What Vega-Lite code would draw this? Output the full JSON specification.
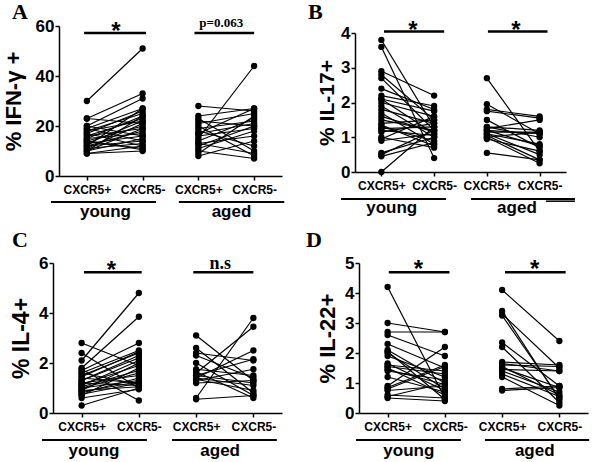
{
"$schema":"https://vega.github.io/schema/vega-lite/v6.json",
"padding":{"left":2,"top":1,"right":0,"bottom":0},
"background":"white",
"config":{"view":{"stroke":null},
"axis":{"grid":false,"domainColor":"black","tickColor":"black","domainWidth":1.5,"tickWidth":1.5,"labelColor":"black","titleColor":"black","labelFont":"Liberation Sans","titleFont":"Liberation Sans","labelFontWeight":"bold","titleFontWeight":"bold"},
"axisX":{"labelFontSize":12,"tickSize":4,"labelPadding":4,"labelAngle":0},
"axisY":{"labelFontSize":17,"tickSize":4,"labelPadding":1,"labelOverlap":false},
"axisTop":{"domain":false,"ticks":false,"labels":false,"title":null,"grid":false}},
"datasets":{"d":[
{"p":"A","i":"y1","s":"young CXCR5+","v":30},{"p":"A","i":"y1","s":"young CXCR5-","v":51},
{"p":"A","i":"y2","s":"young CXCR5+","v":23},{"p":"A","i":"y2","s":"young CXCR5-","v":33},
{"p":"A","i":"y3","s":"young CXCR5+","v":23},{"p":"A","i":"y3","s":"young CXCR5-","v":21},
{"p":"A","i":"y4","s":"young CXCR5+","v":20},{"p":"A","i":"y4","s":"young CXCR5-","v":31},
{"p":"A","i":"y5","s":"young CXCR5+","v":19},{"p":"A","i":"y5","s":"young CXCR5-","v":27},
{"p":"A","i":"y6","s":"young CXCR5+","v":19},{"p":"A","i":"y6","s":"young CXCR5-","v":14},
{"p":"A","i":"y7","s":"young CXCR5+","v":18},{"p":"A","i":"y7","s":"young CXCR5-","v":25},
{"p":"A","i":"y8","s":"young CXCR5+","v":18},{"p":"A","i":"y8","s":"young CXCR5-","v":22},
{"p":"A","i":"y9","s":"young CXCR5+","v":17},{"p":"A","i":"y9","s":"young CXCR5-","v":26},
{"p":"A","i":"y10","s":"young CXCR5+","v":17},{"p":"A","i":"y10","s":"young CXCR5-","v":12},
{"p":"A","i":"y11","s":"young CXCR5+","v":16},{"p":"A","i":"y11","s":"young CXCR5-","v":23},
{"p":"A","i":"y12","s":"young CXCR5+","v":16},{"p":"A","i":"y12","s":"young CXCR5-","v":19},
{"p":"A","i":"y13","s":"young CXCR5+","v":15},{"p":"A","i":"y13","s":"young CXCR5-","v":24},
{"p":"A","i":"y14","s":"young CXCR5+","v":15},{"p":"A","i":"y14","s":"young CXCR5-","v":17},
{"p":"A","i":"y15","s":"young CXCR5+","v":14},{"p":"A","i":"y15","s":"young CXCR5-","v":20},
{"p":"A","i":"y16","s":"young CXCR5+","v":14},{"p":"A","i":"y16","s":"young CXCR5-","v":11},
{"p":"A","i":"y17","s":"young CXCR5+","v":13},{"p":"A","i":"y17","s":"young CXCR5-","v":22},
{"p":"A","i":"y18","s":"young CXCR5+","v":13},{"p":"A","i":"y18","s":"young CXCR5-","v":16},
{"p":"A","i":"y19","s":"young CXCR5+","v":12},{"p":"A","i":"y19","s":"young CXCR5-","v":18},
{"p":"A","i":"y20","s":"young CXCR5+","v":12},{"p":"A","i":"y20","s":"young CXCR5-","v":14},
{"p":"A","i":"y21","s":"young CXCR5+","v":11},{"p":"A","i":"y21","s":"young CXCR5-","v":21},
{"p":"A","i":"y22","s":"young CXCR5+","v":11},{"p":"A","i":"y22","s":"young CXCR5-","v":13},
{"p":"A","i":"y23","s":"young CXCR5+","v":10},{"p":"A","i":"y23","s":"young CXCR5-","v":19},
{"p":"A","i":"y24","s":"young CXCR5+","v":10},{"p":"A","i":"y24","s":"young CXCR5-","v":15},
{"p":"A","i":"y25","s":"young CXCR5+","v":9},{"p":"A","i":"y25","s":"young CXCR5-","v":12},
{"p":"A","i":"y26","s":"young CXCR5+","v":9},{"p":"A","i":"y26","s":"young CXCR5-","v":10},
{"p":"A","i":"y27","s":"young CXCR5+","v":20},{"p":"A","i":"y27","s":"young CXCR5-","v":16},
{"p":"A","i":"y28","s":"young CXCR5+","v":12},{"p":"A","i":"y28","s":"young CXCR5-","v":27},
{"p":"A","i":"y29","s":"young CXCR5+","v":14},{"p":"A","i":"y29","s":"young CXCR5-","v":10.5},
{"p":"A","i":"y30","s":"young CXCR5+","v":10},{"p":"A","i":"y30","s":"young CXCR5-","v":24},
{"p":"A","i":"a1","s":"aged CXCR5+","v":28},{"p":"A","i":"a1","s":"aged CXCR5-","v":26},
{"p":"A","i":"a2","s":"aged CXCR5+","v":24},{"p":"A","i":"a2","s":"aged CXCR5-","v":27},
{"p":"A","i":"a3","s":"aged CXCR5+","v":23},{"p":"A","i":"a3","s":"aged CXCR5-","v":10},
{"p":"A","i":"a4","s":"aged CXCR5+","v":22},{"p":"A","i":"a4","s":"aged CXCR5-","v":20},
{"p":"A","i":"a5","s":"aged CXCR5+","v":21},{"p":"A","i":"a5","s":"aged CXCR5-","v":25},
{"p":"A","i":"a6","s":"aged CXCR5+","v":20},{"p":"A","i":"a6","s":"aged CXCR5-","v":8},
{"p":"A","i":"a7","s":"aged CXCR5+","v":19},{"p":"A","i":"a7","s":"aged CXCR5-","v":22},
{"p":"A","i":"a8","s":"aged CXCR5+","v":18},{"p":"A","i":"a8","s":"aged CXCR5-","v":12},
{"p":"A","i":"a9","s":"aged CXCR5+","v":17},{"p":"A","i":"a9","s":"aged CXCR5-","v":21},
{"p":"A","i":"a10","s":"aged CXCR5+","v":16},{"p":"A","i":"a10","s":"aged CXCR5-","v":19},
{"p":"A","i":"a11","s":"aged CXCR5+","v":15},{"p":"A","i":"a11","s":"aged CXCR5-","v":44},
{"p":"A","i":"a12","s":"aged CXCR5+","v":14},{"p":"A","i":"a12","s":"aged CXCR5-","v":23},
{"p":"A","i":"a13","s":"aged CXCR5+","v":13},{"p":"A","i":"a13","s":"aged CXCR5-","v":16},
{"p":"A","i":"a14","s":"aged CXCR5+","v":12},{"p":"A","i":"a14","s":"aged CXCR5-","v":20},
{"p":"A","i":"a15","s":"aged CXCR5+","v":11},{"p":"A","i":"a15","s":"aged CXCR5-","v":18},
{"p":"A","i":"a16","s":"aged CXCR5+","v":10},{"p":"A","i":"a16","s":"aged CXCR5-","v":7},
{"p":"A","i":"a17","s":"aged CXCR5+","v":8},{"p":"A","i":"a17","s":"aged CXCR5-","v":14},
{"p":"A","i":"a18","s":"aged CXCR5+","v":9},{"p":"A","i":"a18","s":"aged CXCR5-","v":24},
{"p":"A","i":"a19","s":"aged CXCR5+","v":17},{"p":"A","i":"a19","s":"aged CXCR5-","v":27},
{"p":"A","i":"a20","s":"aged CXCR5+","v":13},{"p":"A","i":"a20","s":"aged CXCR5-","v":9},
{"p":"B","i":"y1","s":"young CXCR5+","v":3.8},{"p":"B","i":"y1","s":"young CXCR5-","v":1.3},
{"p":"B","i":"y2","s":"young CXCR5+","v":3.6},{"p":"B","i":"y2","s":"young CXCR5-","v":0.4},
{"p":"B","i":"y3","s":"young CXCR5+","v":2.9},{"p":"B","i":"y3","s":"young CXCR5-","v":2.2},
{"p":"B","i":"y4","s":"young CXCR5+","v":2.8},{"p":"B","i":"y4","s":"young CXCR5-","v":1.5},
{"p":"B","i":"y5","s":"young CXCR5+","v":2.7},{"p":"B","i":"y5","s":"young CXCR5-","v":1.2},
{"p":"B","i":"y6","s":"young CXCR5+","v":2.4},{"p":"B","i":"y6","s":"young CXCR5-","v":1.8},
{"p":"B","i":"y7","s":"young CXCR5+","v":2.2},{"p":"B","i":"y7","s":"young CXCR5-","v":1.9},
{"p":"B","i":"y8","s":"young CXCR5+","v":2.1},{"p":"B","i":"y8","s":"young CXCR5-","v":1.1},
{"p":"B","i":"y9","s":"young CXCR5+","v":2.0},{"p":"B","i":"y9","s":"young CXCR5-","v":1.6},
{"p":"B","i":"y10","s":"young CXCR5+","v":1.9},{"p":"B","i":"y10","s":"young CXCR5-","v":1.0},
{"p":"B","i":"y11","s":"young CXCR5+","v":1.8},{"p":"B","i":"y11","s":"young CXCR5-","v":1.4},
{"p":"B","i":"y12","s":"young CXCR5+","v":1.7},{"p":"B","i":"y12","s":"young CXCR5-","v":0.8},
{"p":"B","i":"y13","s":"young CXCR5+","v":1.5},{"p":"B","i":"y13","s":"young CXCR5-","v":1.2},
{"p":"B","i":"y14","s":"young CXCR5+","v":1.4},{"p":"B","i":"y14","s":"young CXCR5-","v":1.5},
{"p":"B","i":"y15","s":"young CXCR5+","v":1.3},{"p":"B","i":"y15","s":"young CXCR5-","v":0.9},
{"p":"B","i":"y16","s":"young CXCR5+","v":1.25},{"p":"B","i":"y16","s":"young CXCR5-","v":1.3},
{"p":"B","i":"y17","s":"young CXCR5+","v":1.2},{"p":"B","i":"y17","s":"young CXCR5-","v":1.05},
{"p":"B","i":"y18","s":"young CXCR5+","v":1.0},{"p":"B","i":"y18","s":"young CXCR5-","v":0.7},
{"p":"B","i":"y19","s":"young CXCR5+","v":0.9},{"p":"B","i":"y19","s":"young CXCR5-","v":1.1},
{"p":"B","i":"y20","s":"young CXCR5+","v":0.55},{"p":"B","i":"y20","s":"young CXCR5-","v":1.0},
{"p":"B","i":"y21","s":"young CXCR5+","v":0.5},{"p":"B","i":"y21","s":"young CXCR5-","v":1.2},
{"p":"B","i":"y22","s":"young CXCR5+","v":0.45},{"p":"B","i":"y22","s":"young CXCR5-","v":0.85},
{"p":"B","i":"y23","s":"young CXCR5+","v":0.0},{"p":"B","i":"y23","s":"young CXCR5-","v":1.3},
{"p":"B","i":"y24","s":"young CXCR5+","v":2.1},{"p":"B","i":"y24","s":"young CXCR5-","v":1.75},
{"p":"B","i":"y25","s":"young CXCR5+","v":1.6},{"p":"B","i":"y25","s":"young CXCR5-","v":1.15},
{"p":"B","i":"y26","s":"young CXCR5+","v":1.15},{"p":"B","i":"y26","s":"young CXCR5-","v":1.4},
{"p":"B","i":"y27","s":"young CXCR5+","v":0.95},{"p":"B","i":"y27","s":"young CXCR5-","v":1.6},
{"p":"B","i":"y28","s":"young CXCR5+","v":1.35},{"p":"B","i":"y28","s":"young CXCR5-","v":0.75},
{"p":"B","i":"a1","s":"aged CXCR5+","v":2.7},{"p":"B","i":"a1","s":"aged CXCR5-","v":0.6},
{"p":"B","i":"a2","s":"aged CXCR5+","v":1.95},{"p":"B","i":"a2","s":"aged CXCR5-","v":1.1},
{"p":"B","i":"a3","s":"aged CXCR5+","v":1.8},{"p":"B","i":"a3","s":"aged CXCR5-","v":1.6},
{"p":"B","i":"a4","s":"aged CXCR5+","v":1.75},{"p":"B","i":"a4","s":"aged CXCR5-","v":1.55},
{"p":"B","i":"a5","s":"aged CXCR5+","v":1.5},{"p":"B","i":"a5","s":"aged CXCR5-","v":0.7},
{"p":"B","i":"a6","s":"aged CXCR5+","v":1.3},{"p":"B","i":"a6","s":"aged CXCR5-","v":1.2},
{"p":"B","i":"a7","s":"aged CXCR5+","v":1.25},{"p":"B","i":"a7","s":"aged CXCR5-","v":1.5},
{"p":"B","i":"a8","s":"aged CXCR5+","v":1.2},{"p":"B","i":"a8","s":"aged CXCR5-","v":0.75},
{"p":"B","i":"a9","s":"aged CXCR5+","v":1.15},{"p":"B","i":"a9","s":"aged CXCR5-","v":1.15},
{"p":"B","i":"a10","s":"aged CXCR5+","v":1.1},{"p":"B","i":"a10","s":"aged CXCR5-","v":0.5},
{"p":"B","i":"a11","s":"aged CXCR5+","v":1.05},{"p":"B","i":"a11","s":"aged CXCR5-","v":0.35},
{"p":"B","i":"a12","s":"aged CXCR5+","v":1.0},{"p":"B","i":"a12","s":"aged CXCR5-","v":0.25},
{"p":"B","i":"a13","s":"aged CXCR5+","v":0.95},{"p":"B","i":"a13","s":"aged CXCR5-","v":0.6},
{"p":"B","i":"a14","s":"aged CXCR5+","v":0.55},{"p":"B","i":"a14","s":"aged CXCR5-","v":0.35},
{"p":"B","i":"a15","s":"aged CXCR5+","v":1.2},{"p":"B","i":"a15","s":"aged CXCR5-","v":1.1},
{"p":"B","i":"a16","s":"aged CXCR5+","v":1.1},{"p":"B","i":"a16","s":"aged CXCR5-","v":0.8},
{"p":"B","i":"a17","s":"aged CXCR5+","v":1.3},{"p":"B","i":"a17","s":"aged CXCR5-","v":1.0},
{"p":"B","i":"a18","s":"aged CXCR5+","v":1.0},{"p":"B","i":"a18","s":"aged CXCR5-","v":1.15},
{"p":"C","i":"y1","s":"young CXCR5+","v":2.1},{"p":"C","i":"y1","s":"young CXCR5-","v":4.8},
{"p":"C","i":"y2","s":"young CXCR5+","v":1.8},{"p":"C","i":"y2","s":"young CXCR5-","v":3.85},
{"p":"C","i":"y3","s":"young CXCR5+","v":2.8},{"p":"C","i":"y3","s":"young CXCR5-","v":1.9},
{"p":"C","i":"y4","s":"young CXCR5+","v":2.4},{"p":"C","i":"y4","s":"young CXCR5-","v":1.0},
{"p":"C","i":"y5","s":"young CXCR5+","v":1.7},{"p":"C","i":"y5","s":"young CXCR5-","v":2.8},
{"p":"C","i":"y6","s":"young CXCR5+","v":1.6},{"p":"C","i":"y6","s":"young CXCR5-","v":2.5},
{"p":"C","i":"y7","s":"young CXCR5+","v":1.5},{"p":"C","i":"y7","s":"young CXCR5-","v":2.4},
{"p":"C","i":"y8","s":"young CXCR5+","v":1.4},{"p":"C","i":"y8","s":"young CXCR5-","v":1.2},
{"p":"C","i":"y9","s":"young CXCR5+","v":1.3},{"p":"C","i":"y9","s":"young CXCR5-","v":2.3},
{"p":"C","i":"y10","s":"young CXCR5+","v":1.2},{"p":"C","i":"y10","s":"young CXCR5-","v":1.1},
{"p":"C","i":"y11","s":"young CXCR5+","v":1.1},{"p":"C","i":"y11","s":"young CXCR5-","v":2.1},
{"p":"C","i":"y12","s":"young CXCR5+","v":1.0},{"p":"C","i":"y12","s":"young CXCR5-","v":1.6},
{"p":"C","i":"y13","s":"young CXCR5+","v":0.9},{"p":"C","i":"y13","s":"young CXCR5-","v":2.0},
{"p":"C","i":"y14","s":"young CXCR5+","v":0.8},{"p":"C","i":"y14","s":"young CXCR5-","v":1.4},
{"p":"C","i":"y15","s":"young CXCR5+","v":0.7},{"p":"C","i":"y15","s":"young CXCR5-","v":1.8},
{"p":"C","i":"y16","s":"young CXCR5+","v":0.3},{"p":"C","i":"y16","s":"young CXCR5-","v":1.0},
{"p":"C","i":"y17","s":"young CXCR5+","v":1.75},{"p":"C","i":"y17","s":"young CXCR5-","v":0.5},
{"p":"C","i":"y18","s":"young CXCR5+","v":1.2},{"p":"C","i":"y18","s":"young CXCR5-","v":1.5},
{"p":"C","i":"y19","s":"young CXCR5+","v":1.0},{"p":"C","i":"y19","s":"young CXCR5-","v":1.3},
{"p":"C","i":"y20","s":"young CXCR5+","v":0.9},{"p":"C","i":"y20","s":"young CXCR5-","v":1.05},
{"p":"C","i":"y21","s":"young CXCR5+","v":0.75},{"p":"C","i":"y21","s":"young CXCR5-","v":1.2},
{"p":"C","i":"y22","s":"young CXCR5+","v":1.3},{"p":"C","i":"y22","s":"young CXCR5-","v":2.2},
{"p":"C","i":"y23","s":"young CXCR5+","v":1.6},{"p":"C","i":"y23","s":"young CXCR5-","v":1.15},
{"p":"C","i":"y24","s":"young CXCR5+","v":0.6},{"p":"C","i":"y24","s":"young CXCR5-","v":0.95},
{"p":"C","i":"y25","s":"young CXCR5+","v":1.05},{"p":"C","i":"y25","s":"young CXCR5-","v":1.7},
{"p":"C","i":"y26","s":"young CXCR5+","v":1.45},{"p":"C","i":"y26","s":"young CXCR5-","v":2.45},
{"p":"C","i":"y27","s":"young CXCR5+","v":0.85},{"p":"C","i":"y27","s":"young CXCR5-","v":1.25},
{"p":"C","i":"y28","s":"young CXCR5+","v":1.15},{"p":"C","i":"y28","s":"young CXCR5-","v":1.9},
{"p":"C","i":"a1","s":"aged CXCR5+","v":3.1},{"p":"C","i":"a1","s":"aged CXCR5-","v":1.3},
{"p":"C","i":"a2","s":"aged CXCR5+","v":2.6},{"p":"C","i":"a2","s":"aged CXCR5-","v":0.8},
{"p":"C","i":"a3","s":"aged CXCR5+","v":2.4},{"p":"C","i":"a3","s":"aged CXCR5-","v":2.1},
{"p":"C","i":"a4","s":"aged CXCR5+","v":2.3},{"p":"C","i":"a4","s":"aged CXCR5-","v":1.4},
{"p":"C","i":"a5","s":"aged CXCR5+","v":2.0},{"p":"C","i":"a5","s":"aged CXCR5-","v":0.7},
{"p":"C","i":"a6","s":"aged CXCR5+","v":1.75},{"p":"C","i":"a6","s":"aged CXCR5-","v":1.5},
{"p":"C","i":"a7","s":"aged CXCR5+","v":1.6},{"p":"C","i":"a7","s":"aged CXCR5-","v":3.45},
{"p":"C","i":"a8","s":"aged CXCR5+","v":1.5},{"p":"C","i":"a8","s":"aged CXCR5-","v":1.2},
{"p":"C","i":"a9","s":"aged CXCR5+","v":1.4},{"p":"C","i":"a9","s":"aged CXCR5-","v":2.5},
{"p":"C","i":"a10","s":"aged CXCR5+","v":1.35},{"p":"C","i":"a10","s":"aged CXCR5-","v":0.9},
{"p":"C","i":"a11","s":"aged CXCR5+","v":1.3},{"p":"C","i":"a11","s":"aged CXCR5-","v":1.75},
{"p":"C","i":"a12","s":"aged CXCR5+","v":0.6},{"p":"C","i":"a12","s":"aged CXCR5-","v":3.8},
{"p":"C","i":"a13","s":"aged CXCR5+","v":0.55},{"p":"C","i":"a13","s":"aged CXCR5-","v":0.7},
{"p":"C","i":"a14","s":"aged CXCR5+","v":1.5},{"p":"C","i":"a14","s":"aged CXCR5-","v":2.15},
{"p":"C","i":"a15","s":"aged CXCR5+","v":1.2},{"p":"C","i":"a15","s":"aged CXCR5-","v":1.3},
{"p":"C","i":"a16","s":"aged CXCR5+","v":1.65},{"p":"C","i":"a16","s":"aged CXCR5-","v":0.6},
{"p":"C","i":"a17","s":"aged CXCR5+","v":1.4},{"p":"C","i":"a17","s":"aged CXCR5-","v":1.1},
{"p":"D","i":"y1","s":"young CXCR5+","v":4.2},{"p":"D","i":"y1","s":"young CXCR5-","v":0.5},
{"p":"D","i":"y2","s":"young CXCR5+","v":3.0},{"p":"D","i":"y2","s":"young CXCR5-","v":2.7},
{"p":"D","i":"y3","s":"young CXCR5+","v":2.7},{"p":"D","i":"y3","s":"young CXCR5-","v":2.7},
{"p":"D","i":"y4","s":"young CXCR5+","v":2.6},{"p":"D","i":"y4","s":"young CXCR5-","v":1.9},
{"p":"D","i":"y5","s":"young CXCR5+","v":2.3},{"p":"D","i":"y5","s":"young CXCR5-","v":1.5},
{"p":"D","i":"y6","s":"young CXCR5+","v":2.1},{"p":"D","i":"y6","s":"young CXCR5-","v":1.0},
{"p":"D","i":"y7","s":"young CXCR5+","v":2.0},{"p":"D","i":"y7","s":"young CXCR5-","v":0.8},
{"p":"D","i":"y8","s":"young CXCR5+","v":1.9},{"p":"D","i":"y8","s":"young CXCR5-","v":1.2},
{"p":"D","i":"y9","s":"young CXCR5+","v":1.6},{"p":"D","i":"y9","s":"young CXCR5-","v":1.4},
{"p":"D","i":"y10","s":"young CXCR5+","v":1.5},{"p":"D","i":"y10","s":"young CXCR5-","v":0.6},
{"p":"D","i":"y11","s":"young CXCR5+","v":1.4},{"p":"D","i":"y11","s":"young CXCR5-","v":1.1},
{"p":"D","i":"y12","s":"young CXCR5+","v":1.2},{"p":"D","i":"y12","s":"young CXCR5-","v":0.7},
{"p":"D","i":"y13","s":"young CXCR5+","v":0.9},{"p":"D","i":"y13","s":"young CXCR5-","v":2.2},
{"p":"D","i":"y14","s":"young CXCR5+","v":0.85},{"p":"D","i":"y14","s":"young CXCR5-","v":1.6},
{"p":"D","i":"y15","s":"young CXCR5+","v":0.75},{"p":"D","i":"y15","s":"young CXCR5-","v":0.9},
{"p":"D","i":"y16","s":"young CXCR5+","v":0.6},{"p":"D","i":"y16","s":"young CXCR5-","v":0.5},
{"p":"D","i":"y17","s":"young CXCR5+","v":0.5},{"p":"D","i":"y17","s":"young CXCR5-","v":0.4},
{"p":"D","i":"y18","s":"young CXCR5+","v":1.55},{"p":"D","i":"y18","s":"young CXCR5-","v":1.3},
{"p":"D","i":"y19","s":"young CXCR5+","v":2.05},{"p":"D","i":"y19","s":"young CXCR5-","v":0.45},
{"p":"D","i":"y20","s":"young CXCR5+","v":1.45},{"p":"D","i":"y20","s":"young CXCR5-","v":0.95},
{"p":"D","i":"y21","s":"young CXCR5+","v":0.8},{"p":"D","i":"y21","s":"young CXCR5-","v":1.55},
{"p":"D","i":"y22","s":"young CXCR5+","v":1.65},{"p":"D","i":"y22","s":"young CXCR5-","v":0.75},
{"p":"D","i":"y23","s":"young CXCR5+","v":0.55},{"p":"D","i":"y23","s":"young CXCR5-","v":1.0},
{"p":"D","i":"a1","s":"aged CXCR5+","v":4.1},{"p":"D","i":"a1","s":"aged CXCR5-","v":2.4},
{"p":"D","i":"a2","s":"aged CXCR5+","v":3.4},{"p":"D","i":"a2","s":"aged CXCR5-","v":0.45},
{"p":"D","i":"a3","s":"aged CXCR5+","v":3.3},{"p":"D","i":"a3","s":"aged CXCR5-","v":1.5},
{"p":"D","i":"a4","s":"aged CXCR5+","v":2.35},{"p":"D","i":"a4","s":"aged CXCR5-","v":0.9},
{"p":"D","i":"a5","s":"aged CXCR5+","v":2.2},{"p":"D","i":"a5","s":"aged CXCR5-","v":0.35},
{"p":"D","i":"a6","s":"aged CXCR5+","v":1.7},{"p":"D","i":"a6","s":"aged CXCR5-","v":1.6},
{"p":"D","i":"a7","s":"aged CXCR5+","v":1.6},{"p":"D","i":"a7","s":"aged CXCR5-","v":1.55},
{"p":"D","i":"a8","s":"aged CXCR5+","v":1.5},{"p":"D","i":"a8","s":"aged CXCR5-","v":0.85},
{"p":"D","i":"a9","s":"aged CXCR5+","v":1.45},{"p":"D","i":"a9","s":"aged CXCR5-","v":1.4},
{"p":"D","i":"a10","s":"aged CXCR5+","v":1.4},{"p":"D","i":"a10","s":"aged CXCR5-","v":0.7},
{"p":"D","i":"a11","s":"aged CXCR5+","v":1.3},{"p":"D","i":"a11","s":"aged CXCR5-","v":0.55},
{"p":"D","i":"a12","s":"aged CXCR5+","v":1.2},{"p":"D","i":"a12","s":"aged CXCR5-","v":0.25},
{"p":"D","i":"a13","s":"aged CXCR5+","v":0.8},{"p":"D","i":"a13","s":"aged CXCR5-","v":0.9},
{"p":"D","i":"a14","s":"aged CXCR5+","v":0.75},{"p":"D","i":"a14","s":"aged CXCR5-","v":0.85},
{"p":"D","i":"a15","s":"aged CXCR5+","v":1.65},{"p":"D","i":"a15","s":"aged CXCR5-","v":1.4},
{"p":"D","i":"a16","s":"aged CXCR5+","v":1.55},{"p":"D","i":"a16","s":"aged CXCR5-","v":0.6},
{"p":"D","i":"a17","s":"aged CXCR5+","v":3.25},{"p":"D","i":"a17","s":"aged CXCR5-","v":0.5}
]},
"columns":2,
"spacing":{"row":87,"column":77},
"bounds":"flush",
"concat":[
{"width":223,"height":150,
 "layer":[
  {"data":{"name":"d"},"transform":[{"filter":"datum.p == 'A'"}],
   "encoding":{
    "x":{"field":"s","type":"nominal","sort":null,"scale":{"type":"point","domain":["young CXCR5+","young CXCR5-","aged CXCR5+","aged CXCR5-"],"range":[0,223],"padding":0.5},"axis":{"labelExpr":"split(datum.label,' ')[1]","title":null,"orient":"bottom"}},
    "y":{"field":"v","type":"quantitative","scale":{"domain":[0,60]},"axis":{"values":[0,20,40,60],"tickCount":4,"title":"% IFN-γ +","titleFontSize":22,"titlePadding":10}}},
   "layer":[
    {"mark":{"type":"line","color":"black","strokeWidth":1.2},"encoding":{"detail":{"field":"i"}}},
    {"mark":{"type":"circle","color":"black","opacity":1,"size":40}}]},
  {"data":{"values":[{}]},
   "layer":[
    {"mark":{"type":"rule","color":"black","strokeWidth":2.5},"encoding":{"x":{"datum":0.95,"type":"quantitative","scale":{"domain":[0.5,4.5],"range":[0,223],"nice":false,"zero":false},"axis":{"orient":"top"}},"x2":{"datum":2.06},"y":{"datum":57.2,"type":"quantitative","scale":{"domain":[0,60]}}}},
    {"mark":{"type":"rule","color":"black","strokeWidth":2.5},"encoding":{"x":{"datum":2.93,"type":"quantitative","scale":{"domain":[0.5,4.5],"range":[0,223],"nice":false,"zero":false},"axis":{"orient":"top"}},"x2":{"datum":4.0},"y":{"datum":57.2,"type":"quantitative","scale":{"domain":[0,60]}}}},
    {"mark":{"type":"rule","color":"black","strokeWidth":1.8},"encoding":{"x":{"datum":0.356,"type":"quantitative","scale":{"domain":[0.5,4.5],"range":[0,223],"nice":false,"zero":false},"axis":{"orient":"top"}},"x2":{"datum":2.24},"y":{"datum":-10.4,"type":"quantitative","scale":{"domain":[0,60]}}}},
    {"mark":{"type":"rule","color":"black","strokeWidth":1.8},"encoding":{"x":{"datum":2.65,"type":"quantitative","scale":{"domain":[0.5,4.5],"range":[0,223],"nice":false,"zero":false},"axis":{"orient":"top"}},"x2":{"datum":4.54},"y":{"datum":-10.4,"type":"quantitative","scale":{"domain":[0,60]}}}},
    {"mark":{"type":"text","text":"A","font":"Liberation Serif","fontWeight":"bold","fontSize":22,"align":"left","baseline":"alphabetic","color":"black"},"encoding":{"x":{"datum":-0.343,"type":"quantitative","scale":{"domain":[0.5,4.5],"range":[0,223],"nice":false,"zero":false},"axis":{"orient":"top"}},"y":{"datum":62.8,"type":"quantitative","scale":{"domain":[0,60]}}}},
    {"mark":{"type":"text","text":"*","font":"Liberation Sans","fontWeight":"bold","fontSize":24,"align":"center","baseline":"alphabetic","color":"black"},"encoding":{"x":{"datum":1.52,"type":"quantitative","scale":{"domain":[0.5,4.5],"range":[0,223],"nice":false,"zero":false},"axis":{"orient":"top"}},"y":{"datum":55,"type":"quantitative","scale":{"domain":[0,60]}}}},
    {"mark":{"type":"text","text":"p=0.063","font":"Liberation Serif","fontWeight":"bold","fontSize":13,"align":"center","baseline":"alphabetic","color":"black"},"encoding":{"x":{"datum":3.41,"type":"quantitative","scale":{"domain":[0.5,4.5],"range":[0,223],"nice":false,"zero":false},"axis":{"orient":"top"}},"y":{"datum":59.6,"type":"quantitative","scale":{"domain":[0,60]}}}},
    {"mark":{"type":"text","text":"young","font":"Liberation Sans","fontWeight":"bold","fontSize":17,"align":"center","baseline":"alphabetic","color":"black"},"encoding":{"x":{"datum":1.334,"type":"quantitative","scale":{"domain":[0.5,4.5],"range":[0,223],"nice":false,"zero":false},"axis":{"orient":"top"}},"y":{"datum":-16.4,"type":"quantitative","scale":{"domain":[0,60]}}}},
    {"mark":{"type":"text","text":"aged","font":"Liberation Sans","fontWeight":"bold","fontSize":17,"align":"center","baseline":"alphabetic","color":"black"},"encoding":{"x":{"datum":3.594,"type":"quantitative","scale":{"domain":[0.5,4.5],"range":[0,223],"nice":false,"zero":false},"axis":{"orient":"top"}},"y":{"datum":-16.4,"type":"quantitative","scale":{"domain":[0,60]}}}}
   ]}
 ],
 "resolve":{"scale":{"x":"independent"}}},
{"width":211,"height":146,
 "layer":[
  {"data":{"name":"d"},"transform":[{"filter":"datum.p == 'B'"}],
   "encoding":{
    "x":{"field":"s","type":"nominal","sort":null,"scale":{"type":"point","domain":["young CXCR5+","young CXCR5-","aged CXCR5+","aged CXCR5-"],"range":[-4,207],"padding":0.5},"axis":{"labelExpr":"split(datum.label,' ')[1]","title":null,"orient":"bottom"}},
    "y":{"field":"v","type":"quantitative","scale":{"domain":[0,4],"range":[146,7]},"axis":{"values":[0,1,2,3,4],"tickCount":5,"title":"% IL-17+","titleFontSize":21,"titlePadding":3,"offset":4}}},
   "layer":[
    {"mark":{"type":"line","color":"black","strokeWidth":1.2},"encoding":{"detail":{"field":"i"}}},
    {"mark":{"type":"circle","color":"black","opacity":1,"size":40}}]},
  {"data":{"values":[{}]},
   "layer":[
    {"mark":{"type":"rule","color":"black","strokeWidth":2.5},"encoding":{"x":{"datum":1.05,"type":"quantitative","scale":{"domain":[0.5,4.5],"range":[-4,207],"nice":false,"zero":false},"axis":{"orient":"top"}},"x2":{"datum":2.19},"y":{"datum":4.04,"type":"quantitative","scale":{"domain":[0,4],"range":[146,7]}}}},
    {"mark":{"type":"rule","color":"black","strokeWidth":2.5},"encoding":{"x":{"datum":3.02,"type":"quantitative","scale":{"domain":[0.5,4.5],"range":[-4,207],"nice":false,"zero":false},"axis":{"orient":"top"}},"x2":{"datum":4.15},"y":{"datum":4.04,"type":"quantitative","scale":{"domain":[0,4],"range":[146,7]}}}},
    {"mark":{"type":"rule","color":"black","strokeWidth":1.8},"encoding":{"x":{"datum":0.235,"type":"quantitative","scale":{"domain":[0.5,4.5],"range":[-4,207],"nice":false,"zero":false},"axis":{"orient":"top"}},"x2":{"datum":2.225},"y":{"datum":-0.777,"type":"quantitative","scale":{"domain":[0,4],"range":[146,7]}}}},
    {"mark":{"type":"rule","color":"black","strokeWidth":1.8},"encoding":{"x":{"datum":2.7,"type":"quantitative","scale":{"domain":[0.5,4.5],"range":[-4,207],"nice":false,"zero":false},"axis":{"orient":"top"}},"x2":{"datum":4.67},"y":{"datum":-0.777,"type":"quantitative","scale":{"domain":[0,4],"range":[146,7]}}}},
    {"mark":{"type":"rule","color":"black","strokeWidth":1.5},"encoding":{"x":{"datum":4.12,"type":"quantitative","scale":{"domain":[0.5,4.5],"range":[-4,207],"nice":false,"zero":false},"axis":{"orient":"top"}},"x2":{"datum":4.67},"y":{"datum":-0.84,"type":"quantitative","scale":{"domain":[0,4],"range":[146,7]}}}},
    {"mark":{"type":"text","text":"B","font":"Liberation Serif","fontWeight":"bold","fontSize":22,"align":"left","baseline":"alphabetic","color":"black"},"encoding":{"x":{"datum":-0.391,"type":"quantitative","scale":{"domain":[0.5,4.5],"range":[-4,207],"nice":false,"zero":false},"axis":{"orient":"top"}},"y":{"datum":4.4,"type":"quantitative","scale":{"domain":[0,4],"range":[146,7]}}}},
    {"mark":{"type":"text","text":"*","font":"Liberation Sans","fontWeight":"bold","fontSize":24,"align":"center","baseline":"alphabetic","color":"black"},"encoding":{"x":{"datum":1.6,"type":"quantitative","scale":{"domain":[0.5,4.5],"range":[-4,207],"nice":false,"zero":false},"axis":{"orient":"top"}},"y":{"datum":3.87,"type":"quantitative","scale":{"domain":[0,4],"range":[146,7]}}}},
    {"mark":{"type":"text","text":"*","font":"Liberation Sans","fontWeight":"bold","fontSize":24,"align":"center","baseline":"alphabetic","color":"black"},"encoding":{"x":{"datum":3.55,"type":"quantitative","scale":{"domain":[0.5,4.5],"range":[-4,207],"nice":false,"zero":false},"axis":{"orient":"top"}},"y":{"datum":3.87,"type":"quantitative","scale":{"domain":[0,4],"range":[146,7]}}}},
    {"mark":{"type":"text","text":"young","font":"Liberation Sans","fontWeight":"bold","fontSize":17,"align":"center","baseline":"alphabetic","color":"black"},"encoding":{"x":{"datum":1.196,"type":"quantitative","scale":{"domain":[0.5,4.5],"range":[-4,207],"nice":false,"zero":false},"axis":{"orient":"top"}},"y":{"datum":-1.19,"type":"quantitative","scale":{"domain":[0,4],"range":[146,7]}}}},
    {"mark":{"type":"text","text":"aged","font":"Liberation Sans","fontWeight":"bold","fontSize":17,"align":"center","baseline":"alphabetic","color":"black"},"encoding":{"x":{"datum":3.57,"type":"quantitative","scale":{"domain":[0.5,4.5],"range":[-4,207],"nice":false,"zero":false},"axis":{"orient":"top"}},"y":{"datum":-1.19,"type":"quantitative","scale":{"domain":[0,4],"range":[146,7]}}}}
   ]}
 ],
 "resolve":{"scale":{"x":"independent"}}},
{"width":223,"height":150,
 "layer":[
  {"data":{"name":"d"},"transform":[{"filter":"datum.p == 'C'"}],
   "encoding":{
    "x":{"field":"s","type":"nominal","sort":null,"scale":{"type":"point","domain":["young CXCR5+","young CXCR5-","aged CXCR5+","aged CXCR5-"],"range":[-6,223],"padding":0.5},"axis":{"labelExpr":"split(datum.label,' ')[1]","title":null,"orient":"bottom"}},
    "y":{"field":"v","type":"quantitative","scale":{"domain":[0,6]},"axis":{"values":[0,2,4,6],"tickCount":4,"title":"% IL-4+","titleFontSize":23,"titlePadding":5,"offset":6}}},
   "layer":[
    {"mark":{"type":"line","color":"black","strokeWidth":1.2},"encoding":{"detail":{"field":"i"}}},
    {"mark":{"type":"circle","color":"black","opacity":1,"size":40}}]},
  {"data":{"values":[{}]},
   "layer":[
    {"mark":{"type":"rule","color":"black","strokeWidth":2.5},"encoding":{"x":{"datum":1.04,"type":"quantitative","scale":{"domain":[0.5,4.5],"range":[-6,223],"nice":false,"zero":false},"axis":{"orient":"top"}},"x2":{"datum":2.05},"y":{"datum":5.63,"type":"quantitative","scale":{"domain":[0,6]}}}},
    {"mark":{"type":"rule","color":"black","strokeWidth":2.5},"encoding":{"x":{"datum":2.95,"type":"quantitative","scale":{"domain":[0.5,4.5],"range":[-6,223],"nice":false,"zero":false},"axis":{"orient":"top"}},"x2":{"datum":4.0},"y":{"datum":5.63,"type":"quantitative","scale":{"domain":[0,6]}}}},
    {"mark":{"type":"rule","color":"black","strokeWidth":1.8},"encoding":{"x":{"datum":0.308,"type":"quantitative","scale":{"domain":[0.5,4.5],"range":[-6,223],"nice":false,"zero":false},"axis":{"orient":"top"}},"x2":{"datum":2.14},"y":{"datum":-1.08,"type":"quantitative","scale":{"domain":[0,6]}}}},
    {"mark":{"type":"rule","color":"black","strokeWidth":1.8},"encoding":{"x":{"datum":2.58,"type":"quantitative","scale":{"domain":[0.5,4.5],"range":[-6,223],"nice":false,"zero":false},"axis":{"orient":"top"}},"x2":{"datum":4.41},"y":{"datum":-1.08,"type":"quantitative","scale":{"domain":[0,6]}}}},
    {"mark":{"type":"text","text":"C","font":"Liberation Serif","fontWeight":"bold","fontSize":22,"align":"left","baseline":"alphabetic","color":"black"},"encoding":{"x":{"datum":-0.216,"type":"quantitative","scale":{"domain":[0.5,4.5],"range":[-6,223],"nice":false,"zero":false},"axis":{"orient":"top"}},"y":{"datum":6.64,"type":"quantitative","scale":{"domain":[0,6]}}}},
    {"mark":{"type":"text","text":"*","font":"Liberation Sans","fontWeight":"bold","fontSize":24,"align":"center","baseline":"alphabetic","color":"black"},"encoding":{"x":{"datum":1.52,"type":"quantitative","scale":{"domain":[0.5,4.5],"range":[-6,223],"nice":false,"zero":false},"axis":{"orient":"top"}},"y":{"datum":5.41,"type":"quantitative","scale":{"domain":[0,6]}}}},
    {"mark":{"type":"text","text":"n.s","font":"Liberation Serif","fontWeight":"bold","fontSize":18,"align":"center","baseline":"alphabetic","color":"black"},"encoding":{"x":{"datum":3.42,"type":"quantitative","scale":{"domain":[0.5,4.5],"range":[-6,223],"nice":false,"zero":false},"axis":{"orient":"top"}},"y":{"datum":5.78,"type":"quantitative","scale":{"domain":[0,6]}}}},
    {"mark":{"type":"text","text":"young","font":"Liberation Sans","fontWeight":"bold","fontSize":17,"align":"center","baseline":"alphabetic","color":"black"},"encoding":{"x":{"datum":1.216,"type":"quantitative","scale":{"domain":[0.5,4.5],"range":[-6,223],"nice":false,"zero":false},"axis":{"orient":"top"}},"y":{"datum":-1.71,"type":"quantitative","scale":{"domain":[0,6]}}}},
    {"mark":{"type":"text","text":"aged","font":"Liberation Sans","fontWeight":"bold","fontSize":17,"align":"center","baseline":"alphabetic","color":"black"},"encoding":{"x":{"datum":3.42,"type":"quantitative","scale":{"domain":[0.5,4.5],"range":[-6,223],"nice":false,"zero":false},"axis":{"orient":"top"}},"y":{"datum":-1.71,"type":"quantitative","scale":{"domain":[0,6]}}}}
   ]}
 ],
 "resolve":{"scale":{"x":"independent"}}},
{"width":229,"height":150,
 "layer":[
  {"data":{"name":"d"},"transform":[{"filter":"datum.p == 'D'"}],
   "encoding":{
    "x":{"field":"s","type":"nominal","sort":null,"scale":{"type":"point","domain":["young CXCR5+","young CXCR5-","aged CXCR5+","aged CXCR5-"],"range":[0,229],"padding":0.5},"axis":{"labelExpr":"split(datum.label,' ')[1]","title":null,"orient":"bottom"}},
    "y":{"field":"v","type":"quantitative","scale":{"domain":[0,5]},"axis":{"values":[0,1,2,3,4,5],"tickCount":6,"title":"% IL-22+","titleFontSize":22,"titlePadding":5}}},
   "layer":[
    {"mark":{"type":"line","color":"black","strokeWidth":1.2},"encoding":{"detail":{"field":"i"}}},
    {"mark":{"type":"circle","color":"black","opacity":1,"size":40}}]},
  {"data":{"values":[{}]},
   "layer":[
    {"mark":{"type":"rule","color":"black","strokeWidth":2.5},"encoding":{"x":{"datum":1.02,"type":"quantitative","scale":{"domain":[0.5,4.5],"range":[0,229],"nice":false,"zero":false},"axis":{"orient":"top"}},"x2":{"datum":2.08},"y":{"datum":4.69,"type":"quantitative","scale":{"domain":[0,5]}}}},
    {"mark":{"type":"rule","color":"black","strokeWidth":2.5},"encoding":{"x":{"datum":3.05,"type":"quantitative","scale":{"domain":[0.5,4.5],"range":[0,229],"nice":false,"zero":false},"axis":{"orient":"top"}},"x2":{"datum":4.11},"y":{"datum":4.69,"type":"quantitative","scale":{"domain":[0,5]}}}},
    {"mark":{"type":"rule","color":"black","strokeWidth":1.8},"encoding":{"x":{"datum":0.448,"type":"quantitative","scale":{"domain":[0.5,4.5],"range":[0,229],"nice":false,"zero":false},"axis":{"orient":"top"}},"x2":{"datum":2.28},"y":{"datum":-0.9,"type":"quantitative","scale":{"domain":[0,5]}}}},
    {"mark":{"type":"rule","color":"black","strokeWidth":1.8},"encoding":{"x":{"datum":2.7,"type":"quantitative","scale":{"domain":[0.5,4.5],"range":[0,229],"nice":false,"zero":false},"axis":{"orient":"top"}},"x2":{"datum":4.52},"y":{"datum":-0.9,"type":"quantitative","scale":{"domain":[0,5]}}}},
    {"mark":{"type":"text","text":"D","font":"Liberation Serif","fontWeight":"bold","fontSize":22,"align":"left","baseline":"alphabetic","color":"black"},"encoding":{"x":{"datum":-0.426,"type":"quantitative","scale":{"domain":[0.5,4.5],"range":[0,229],"nice":false,"zero":false},"axis":{"orient":"top"}},"y":{"datum":5.53,"type":"quantitative","scale":{"domain":[0,5]}}}},
    {"mark":{"type":"text","text":"*","font":"Liberation Sans","fontWeight":"bold","fontSize":24,"align":"center","baseline":"alphabetic","color":"black"},"encoding":{"x":{"datum":1.54,"type":"quantitative","scale":{"domain":[0.5,4.5],"range":[0,229],"nice":false,"zero":false},"axis":{"orient":"top"}},"y":{"datum":4.53,"type":"quantitative","scale":{"domain":[0,5]}}}},
    {"mark":{"type":"text","text":"*","font":"Liberation Sans","fontWeight":"bold","fontSize":24,"align":"center","baseline":"alphabetic","color":"black"},"encoding":{"x":{"datum":3.57,"type":"quantitative","scale":{"domain":[0.5,4.5],"range":[0,229],"nice":false,"zero":false},"axis":{"orient":"top"}},"y":{"datum":4.53,"type":"quantitative","scale":{"domain":[0,5]}}}},
    {"mark":{"type":"text","text":"young","font":"Liberation Sans","fontWeight":"bold","fontSize":17,"align":"center","baseline":"alphabetic","color":"black"},"encoding":{"x":{"datum":1.37,"type":"quantitative","scale":{"domain":[0.5,4.5],"range":[0,229],"nice":false,"zero":false},"axis":{"orient":"top"}},"y":{"datum":-1.43,"type":"quantitative","scale":{"domain":[0,5]}}}},
    {"mark":{"type":"text","text":"aged","font":"Liberation Sans","fontWeight":"bold","fontSize":17,"align":"center","baseline":"alphabetic","color":"black"},"encoding":{"x":{"datum":3.57,"type":"quantitative","scale":{"domain":[0.5,4.5],"range":[0,229],"nice":false,"zero":false},"axis":{"orient":"top"}},"y":{"datum":-1.43,"type":"quantitative","scale":{"domain":[0,5]}}}}
   ]}
 ],
 "resolve":{"scale":{"x":"independent"}}}
]
}
